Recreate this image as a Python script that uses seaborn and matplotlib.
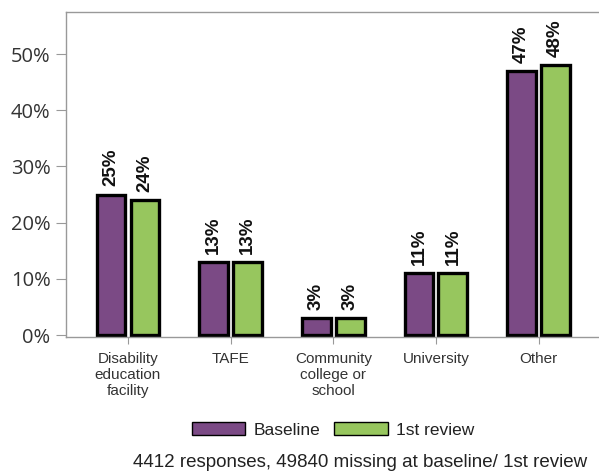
import matplotlib
matplotlib.use("Agg")
import matplotlib.pyplot as plt
import seaborn as sns
import pandas as pd
from matplotlib.ticker import PercentFormatter

categories = ["Disability\neducation\nfacility", "TAFE", "Community\ncollege or\nschool", "University", "Other"]
baseline = [25, 13, 3, 11, 47]
review = [24, 13, 3, 11, 48]
series = ["Baseline", "1st review"]
palette = ["#7B4A85", "#97C65E"]

df = pd.DataFrame({
    "category": categories * 2,
    "value": baseline + review,
    "period": [series[0]] * len(categories) + [series[1]] * len(categories),
})

sns.set_style("white")
plt.rcParams['font.family'] = ['Liberation Sans', 'DejaVu Sans']

fig = plt.figure(figsize=(5.99, 4.74), dpi=100)
ax = fig.add_axes([0.110, 0.289, 0.892, 0.686])

sns.barplot(data=df, x="category", y="value", hue="period", palette=palette,
            width=0.66, gap=0.15, edgecolor="black", linewidth=2.4,
            saturation=1, ax=ax, legend=True)

for cont in ax.containers:
    ax.bar_label(cont, labels=[f"{v:.0f}%" for v in cont.datavalues],
                 rotation=90, padding=6, fontsize=13.5, fontweight="bold", color="#111111")

ax.set_xlim(-0.605, 4.6)
ax.set_ylim(-0.35, 57.5)
ax.set_yticks([0, 10, 20, 30, 40, 50])
ax.yaxis.set_major_formatter(PercentFormatter(decimals=0))
ax.set_xlabel("")
ax.set_ylabel("")
ax.tick_params(axis="y", labelsize=14.5, length=7, color="#999999", left=True,
               labelcolor="#333333", pad=4)
ax.tick_params(axis="x", labelsize=11, length=5, color="#999999", bottom=True,
               labelcolor="#333333", pad=6)
for lbl in ax.get_yticklabels():
    lbl.set_fontfamily(['Open Sans', 'DejaVu Sans'])
for lbl in ax.get_xticklabels():
    lbl.set_linespacing(1.15)
for s in ax.spines.values():
    s.set_color("#999999")
    s.set_linewidth(1)

ax.legend(loc="center", bbox_to_anchor=(0.5, -0.286), ncol=2, frameon=False,
          fontsize=12.5, handlelength=3.1, handleheight=0.8, columnspacing=0.75,
          handletextpad=0.5, labelcolor="#222222")
for h in ax.get_legend().legend_handles:
    h.set_linewidth(1)

fig.text(0.601, 0.024, "4412 responses, 49840 missing at baseline/ 1st review",
         ha="center", va="center", fontsize=13.5, color="#222222")

fig.savefig("out.png", dpi=100)
